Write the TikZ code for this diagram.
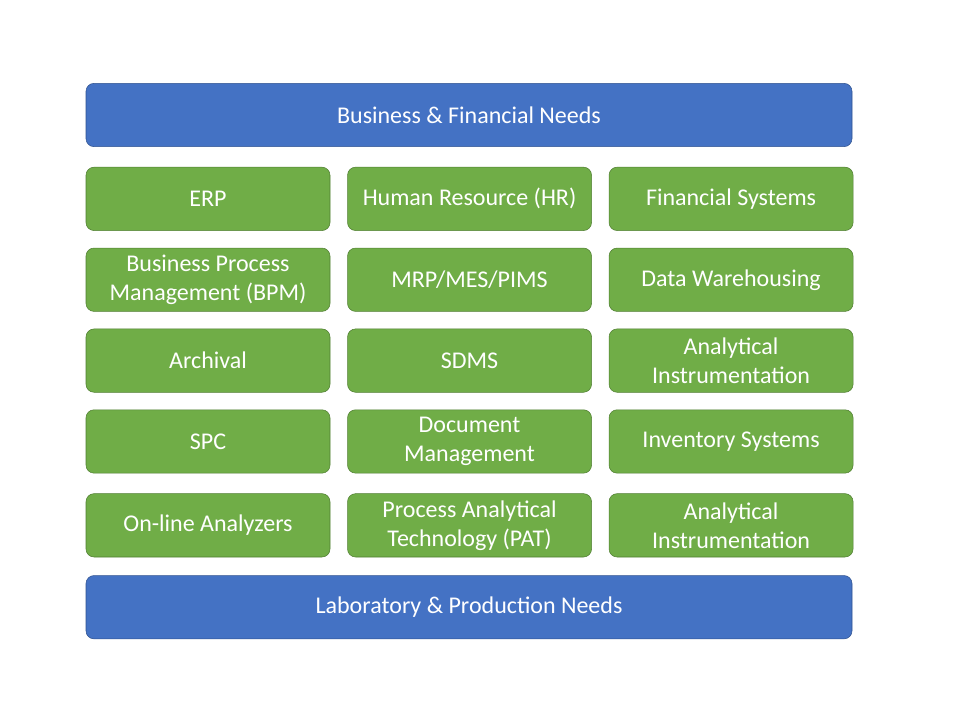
\documentclass[tikz,border=0pt]{standalone}
\usepackage{fontspec}
\setmainfont{Carlito}
\usetikzlibrary{positioning}
\definecolor{NeedBlue}{HTML}{4472C4}
\definecolor{NeedEdge}{HTML}{2F528F}
\definecolor{SysGreen}{HTML}{70AD47}
\definecolor{SysEdge}{HTML}{507E32}
\begin{document}
\begin{tikzpicture}[
    x=0.75pt,y=-0.75pt,
    need/.style={rectangle,rounded corners=6pt,draw=NeedEdge,fill=NeedBlue,text=white,minimum width=574.5pt,minimum height=47.5pt,align=center,font=\fontsize{18}{21.75}\selectfont},
    sys/.style={rectangle,rounded corners=6pt,draw=SysEdge,fill=SysGreen,text=white,minimum width=183pt,minimum height=47.5pt,align=center,font=\fontsize{18}{21.75}\selectfont},
    node distance=12.75pt and 12.75pt
]
\useasboundingbox (0,0) rectangle (960,720);
\node[need] (business) at (469,115) {Business \& Financial Needs};
% row 1
\node[sys,below=15pt of business.south west,anchor=north west] (erp) {ERP};
\node[sys,right=of erp] (hr) {Human Resource (HR)};
\node[sys,right=of hr] (fin) {Financial Systems};
% row 2
\node[sys,below=of erp] (bpm) {Business Process\\Management (BPM)};
\node[sys,right=of bpm] (mrp) {MRP/MES/PIMS};
\node[sys,right=of mrp] (dw) {Data Warehousing};
% row 3
\node[sys,below=of bpm] (arch) {Archival};
\node[sys,right=of arch] (sdms) {SDMS};
\node[sys,right=of sdms] (anai) {Analytical\\Instrumentation};
% row 4
\node[sys,below=of arch] (spc) {SPC};
\node[sys,right=of spc] (doc) {Document\\Management};
\node[sys,right=of doc] (inv) {Inventory Systems};
% row 5
\node[sys,below=15pt of spc] (online) {On-line Analyzers};
\node[sys,right=of online] (pat) {Process Analytical\\Technology (PAT)};
\node[sys,right=of pat] (anaii) {Analytical\\Instrumentation};
\node[need,below=13.5pt of online.south west,anchor=north west] (lab) {Laboratory \& Production Needs};
\end{tikzpicture}
\end{document}
